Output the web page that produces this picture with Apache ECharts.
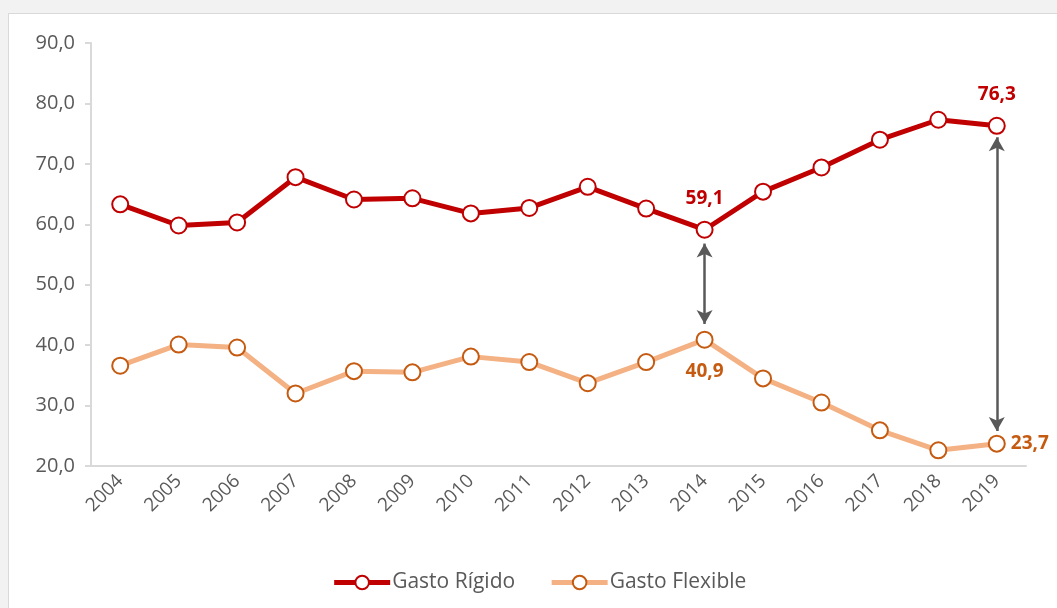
<!DOCTYPE html>
<html lang="es">
<head>
    <meta charset="utf-8">
    <title>Gasto Rígido y Gasto Flexible</title>
    <style>
        html, body { margin: 0; padding: 0; background: #f2f2f2; overflow: hidden; }
        #main {
            position: absolute; left: 8px; top: 13px;
            width: 1060px; height: 600px;
            background: #fff; border: 1px solid #d9d9d9;
        }
    </style>
</head>
<body>
<div id="main"></div>
<script src="https://cdn.jsdelivr.net/npm/echarts@6/dist/echarts.min.js"></script>
<script type="text/javascript">
    // datos
    var years = ['2004', '2005', '2006', '2007', '2008', '2009', '2010', '2011',
                 '2012', '2013', '2014', '2015', '2016', '2017', '2018', '2019'];
    var rigido = [63.3, 59.8, 60.3, 67.8, 64.1, 64.3, 61.8, 62.7,
                  66.2, 62.6, 59.1, 65.4, 69.4, 74.0, 77.3, 76.3];
    var flexible = [36.6, 40.1, 39.6, 32.0, 35.7, 35.5, 38.1, 37.2,
                    33.7, 37.2, 40.9, 34.5, 30.5, 25.9, 22.6, 23.7];
    var yTicks = [20, 30, 40, 50, 60, 70, 80, 90];
    // puntos con etiqueta y flechas
    var rigidoLabels = {'2014': 'top', '2019': 'top'};
    var flexibleLabels = {'2014': 'bottom', '2019': 'right'};
    var arrows = [['2014', 56.8, 43.5], ['2019', 74.4, 25.8]];

    var fmt = function (v) { return v.toFixed(1).replace('.', ','); };
    var font = '"Open Sans", Lato, sans-serif';

    function buildData(values, labels, color) {
        return values.map(function (v, i) {
            var pos = labels[years[i]];
            if (!pos) return v;
            return {
                value: v,
                label: {
                    show: true, position: pos, distance: pos === 'right' ? 5 : 13,
                    color: color, fontWeight: 'bold', fontSize: 19, fontFamily: font,
                    formatter: function (p) { return fmt(p.value); }
                }
            };
        });
    }

    var myChart = echarts.init(document.getElementById('main'));
    var option = {
        animation: false,
        textStyle: { fontFamily: font },
        grid: { left: 82, top: 29, right: 43, bottom: 148 },
        legend: {
            top: 553,
            left: 'center',
            itemWidth: 56,
            itemHeight: 17,
            itemGap: 34,
            lineStyle: { width: 5 },
            textStyle: { color: '#595959', fontSize: 21, fontFamily: font, padding: [0, 0, 0, -3] },
            data: ['Gasto Rígido', 'Gasto Flexible']
        },
        xAxis: {
            type: 'category',
            data: years,
            boundaryGap: true,
            axisLine: { lineStyle: { color: '#d9d9d9', width: 2 } },
            axisTick: { show: false },
            axisLabel: { rotate: 45, color: '#595959', fontSize: 19, margin: 12, fontFamily: font }
        },
        yAxis: {
            type: 'value',
            min: yTicks[0],
            max: yTicks[yTicks.length - 1],
            interval: 10,
            splitLine: { show: false },
            axisLine: { show: true, lineStyle: { color: '#d9d9d9', width: 2 } },
            axisTick: { show: true, length: 6, lineStyle: { color: '#d9d9d9', width: 2 } },
            axisLabel: { color: '#595959', fontSize: 20, margin: 16, fontFamily: font, formatter: fmt }
        },
        series: [
            {
                name: 'Gasto Rígido',
                type: 'line',
                data: buildData(rigido, rigidoLabels, '#c00000'),
                symbol: 'circle',
                symbolSize: 16,
                lineStyle: { color: '#c00000', width: 5 },
                itemStyle: { color: '#fff', borderColor: '#c00000', borderWidth: 2 },
                z: 3,
                markLine: {
                    silent: true,
                    symbol: ['arrow', 'arrow'],
                    symbolSize: [12, 14],
                    label: { show: false },
                    lineStyle: { color: '#595959', width: 2.5, type: 'solid' },
                    data: arrows.map(function (a) {
                        return [{ coord: [a[0], a[1]] }, { coord: [a[0], a[2]] }];
                    })
                }
            },
            {
                name: 'Gasto Flexible',
                type: 'line',
                data: buildData(flexible, flexibleLabels, '#c55a11'),
                symbol: 'circle',
                symbolSize: 16,
                lineStyle: { color: '#f4b183', width: 5 },
                itemStyle: { color: '#fff', borderColor: '#c55a11', borderWidth: 2 },
                z: 3
            }
        ]
    };
    myChart.setOption(option);
</script>
</body>
</html>
